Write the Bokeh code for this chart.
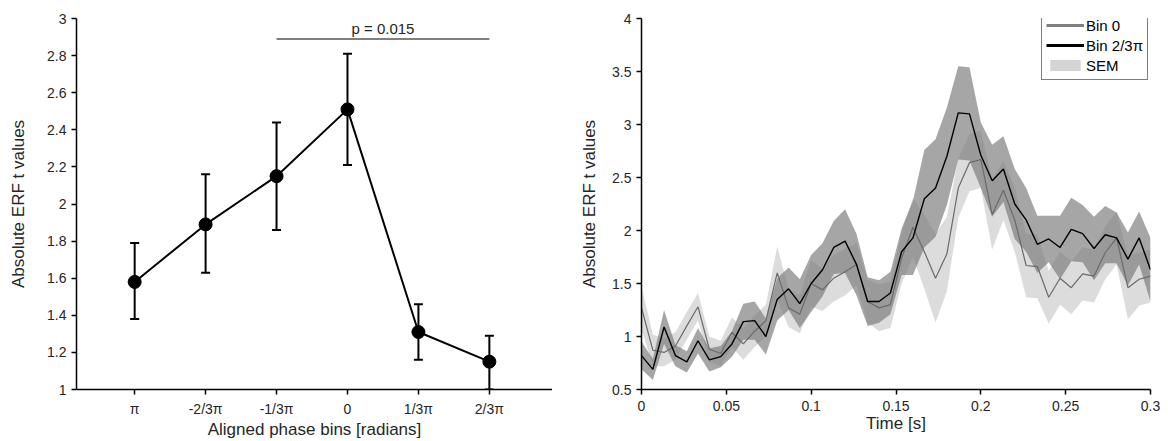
from bokeh.plotting import figure
from bokeh.models import (Range1d, FixedTicker, ColumnDataSource, Whisker, TeeHead,
                          Legend, LegendItem, Label)
from bokeh.layouts import row
from bokeh.embed import file_html
from bokeh.resources import INLINE

# ---------------- Left panel data ----------------
phase_labels = ["π", "-2/3π", "-1/3π", "0", "1/3π", "2/3π"]
phase_pos = [1, 2, 3, 4, 5, 6]
erf_mean = [1.58, 1.89, 2.15, 2.51, 1.31, 1.15]
erf_upper = [1.79, 2.16, 2.44, 2.81, 1.46, 1.29]
erf_lower = [1.38, 1.63, 1.86, 2.21, 1.16, 1.00]
sig_span = [3, 6]
sig_level = 2.89
sig_text = "p = 0.015"
left_yticks = [1, 1.2, 1.4, 1.6, 1.8, 2, 2.2, 2.4, 2.6, 2.8, 3]
left_ytick_labels = ["1", "1.2", "1.4", "1.6", "1.8", "2", "2.2", "2.4", "2.6", "2.8", "3"]

# ---------------- Right panel data ----------------
time_s = [0.0000, 0.0067, 0.0133, 0.0200, 0.0267, 0.0333, 0.0400, 0.0467, 0.0533, 0.0600,
          0.0667, 0.0733, 0.0800, 0.0867, 0.0933, 0.1000, 0.1067, 0.1133, 0.1200, 0.1267,
          0.1333, 0.1400, 0.1467, 0.1533, 0.1600, 0.1667, 0.1733, 0.1800, 0.1867, 0.1933,
          0.2000, 0.2067, 0.2133, 0.2200, 0.2267, 0.2333, 0.2400, 0.2467, 0.2533, 0.2600,
          0.2667, 0.2733, 0.2800, 0.2867, 0.2933, 0.3000]
bin0 = [1.27, 0.87, 0.85, 0.91, 1.10, 1.28, 0.88, 0.84, 1.04, 0.93,
        1.05, 1.15, 1.60, 1.27, 1.21, 1.50, 1.44, 1.55, 1.61, 1.68,
        1.33, 1.27, 1.30, 1.74, 2.03, 1.80, 1.55, 1.78, 2.40, 2.64,
        2.67, 2.15, 2.38, 2.10, 1.67, 1.66, 1.37, 1.55, 1.46, 1.59,
        1.57, 1.79, 1.93, 1.46, 1.54, 1.57]
bin0_sem = [0.20, 0.15, 0.13, 0.13, 0.13, 0.13, 0.12, 0.12, 0.14, 0.15,
            0.15, 0.15, 0.25, 0.18, 0.18, 0.22, 0.20, 0.22, 0.22, 0.20,
            0.20, 0.22, 0.22, 0.24, 0.28, 0.35, 0.42, 0.35, 0.28, 0.27,
            0.27, 0.33, 0.28, 0.30, 0.30, 0.30, 0.25, 0.25, 0.25, 0.25,
            0.25, 0.25, 0.25, 0.30, 0.25, 0.25]
bin23 = [0.82, 0.69, 1.09, 0.82, 0.76, 0.96, 0.78, 0.81, 0.93, 1.14,
         1.15, 1.00, 1.35, 1.45, 1.31, 1.50, 1.63, 1.84, 1.90, 1.68,
         1.33, 1.33, 1.41, 1.80, 1.93, 2.30, 2.40, 2.70, 3.11, 3.10,
         2.71, 2.47, 2.58, 2.25, 2.10, 1.87, 1.92, 1.84, 2.01, 1.97,
         1.83, 1.96, 1.93, 1.73, 1.93, 1.63]
bin23_sem = [0.13, 0.10, 0.16, 0.10, 0.10, 0.12, 0.11, 0.10, 0.12, 0.17,
             0.18, 0.17, 0.20, 0.20, 0.23, 0.27, 0.25, 0.25, 0.30, 0.29,
             0.23, 0.20, 0.20, 0.22, 0.35, 0.46, 0.46, 0.46, 0.44, 0.44,
             0.31, 0.34, 0.31, 0.33, 0.30, 0.27, 0.22, 0.30, 0.30, 0.27,
             0.30, 0.27, 0.24, 0.25, 0.25, 0.30]
right_xticks = [0, 0.05, 0.1, 0.15, 0.2, 0.25, 0.3]
right_xtick_labels = ["0", "0.05", "0.1", "0.15", "0.2", "0.25", "0.3"]
right_yticks = [0.5, 1, 1.5, 2, 2.5, 3, 3.5, 4]
right_ytick_labels = ["0.5", "1", "1.5", "2", "2.5", "3", "3.5", "4"]
legend_labels = ["Bin 0", "Bin 2/3π", "SEM"]

FONT = "Liberation Sans"
TXT = "#262626"


def style(p):
    p.xgrid.visible = False
    p.ygrid.visible = False
    p.outline_line_color = None
    p.background_fill_color = "white"
    p.border_fill_color = "white"
    for ax in (p.xaxis[0], p.yaxis[0]):
        ax.axis_line_color = "black"
        ax.axis_line_width = 1.5
        ax.major_tick_line_color = "black"
        ax.major_tick_line_width = 1.5
        ax.major_tick_out = 5
        ax.major_tick_in = 0
        ax.minor_tick_line_color = None
        ax.major_label_text_font = FONT
        ax.major_label_text_font_size = "14px"
        ax.major_label_text_color = TXT
        ax.axis_label_text_font = FONT
        ax.axis_label_text_font_size = "17px"
        ax.axis_label_text_font_style = "normal"
        ax.axis_label_text_color = TXT
    p.xaxis.major_label_standoff = 6
    p.xaxis.axis_label_standoff = 0


# ---------------- Left figure ----------------
p1 = figure(width=552, height=441, x_range=Range1d(0.18, 6.89), y_range=Range1d(1, 3),
            output_backend="svg", toolbar_location=None,
            min_border_left=76, min_border_right=0, min_border_top=18, min_border_bottom=49,
            x_axis_label="Aligned phase bins [radians]", y_axis_label="Absolute ERF t values")
style(p1)
p1.xaxis.ticker = FixedTicker(ticks=phase_pos)
p1.xaxis.major_label_overrides = dict(zip(phase_pos, phase_labels))
p1.yaxis.ticker = FixedTicker(ticks=left_yticks)
p1.yaxis.major_label_overrides = dict(zip(left_yticks, left_ytick_labels))
p1.yaxis.axis_label_standoff = 16

src = ColumnDataSource(dict(x=phase_pos, y=erf_mean, upper=erf_upper, lower=erf_lower))
wh = Whisker(base="x", upper="upper", lower="lower", source=src, line_color="black", line_width=2,
             upper_head=TeeHead(size=9, line_width=2, line_color="black"),
             lower_head=TeeHead(size=9, line_width=2, line_color="black"))
p1.add_layout(wh)
p1.line("x", "y", source=src, line_color="black", line_width=2)
p1.scatter("x", "y", source=src, size=13, fill_color="black", line_color="black")

p1.line(sig_span, [sig_level, sig_level], line_color="#555555", line_width=1.5)
p1.add_layout(Label(x=sum(sig_span) / 2, y=sig_level, text=sig_text, text_align="center",
                    text_baseline="bottom", y_offset=2, text_font=FONT,
                    text_font_size="15px", text_color=TXT))

# ---------------- Right figure ----------------
p2 = figure(width=616, height=441, x_range=Range1d(0, 0.3), y_range=Range1d(0.5, 4),
            output_backend="svg", toolbar_location=None,
            min_border_left=89, min_border_right=18, min_border_top=18, min_border_bottom=49,
            x_axis_label="Time [s]", y_axis_label="Absolute ERF t values")
style(p2)
p2.xaxis.ticker = FixedTicker(ticks=right_xticks)
p2.xaxis.major_label_overrides = dict(zip(right_xticks, right_xtick_labels))
p2.yaxis.ticker = FixedTicker(ticks=right_yticks)
p2.yaxis.major_label_overrides = dict(zip(right_yticks, right_ytick_labels))
p2.yaxis.axis_label_standoff = 10

rsrc = ColumnDataSource(dict(
    t=time_s,
    b0=bin0, b0_lo=[m - s for m, s in zip(bin0, bin0_sem)], b0_hi=[m + s for m, s in zip(bin0, bin0_sem)],
    b2=bin23, b2_lo=[m - s for m, s in zip(bin23, bin23_sem)], b2_hi=[m + s for m, s in zip(bin23, bin23_sem)],
))
p2.varea(x="t", y1="b0_lo", y2="b0_hi", source=rsrc, fill_color="#bfbfbf", fill_alpha=0.55)
p2.varea(x="t", y1="b2_lo", y2="b2_hi", source=rsrc, fill_color="#777777", fill_alpha=0.65)
p2.line("t", "b0", source=rsrc, line_color="#6a6a6a", line_width=1.2)
p2.line("t", "b2", source=rsrc, line_color="black", line_width=1.4)

# legend-only renderers (hidden, thicker styles for the legend swatches)
lg0 = p2.line("t", "b0", source=rsrc, line_color="#808080", line_width=3, visible=False)
lg1 = p2.line("t", "b2", source=rsrc, line_color="black", line_width=3, visible=False)
lg2 = p2.varea(x="t", y1="b0_lo", y2="b0_hi", source=rsrc, fill_color="#d4d4d4", visible=False)
legend = Legend(items=[LegendItem(label=legend_labels[0], renderers=[lg0]),
                       LegendItem(label=legend_labels[1], renderers=[lg1]),
                       LegendItem(label=legend_labels[2], renderers=[lg2])],
                location=(400, 309), orientation="vertical",
                border_line_color="black", border_line_width=1,
                background_fill_color="white", background_fill_alpha=1,
                inactive_fill_alpha=0,
                label_text_font=FONT, label_text_font_size="15px", label_text_color="black",
                glyph_width=38, glyph_height=14, label_height=20, label_standoff=2,
                padding=4, spacing=0, margin=0)
p2.add_layout(legend)

layout = row(p1, p2)
open("out.html", "w").write(file_html(layout, INLINE))
